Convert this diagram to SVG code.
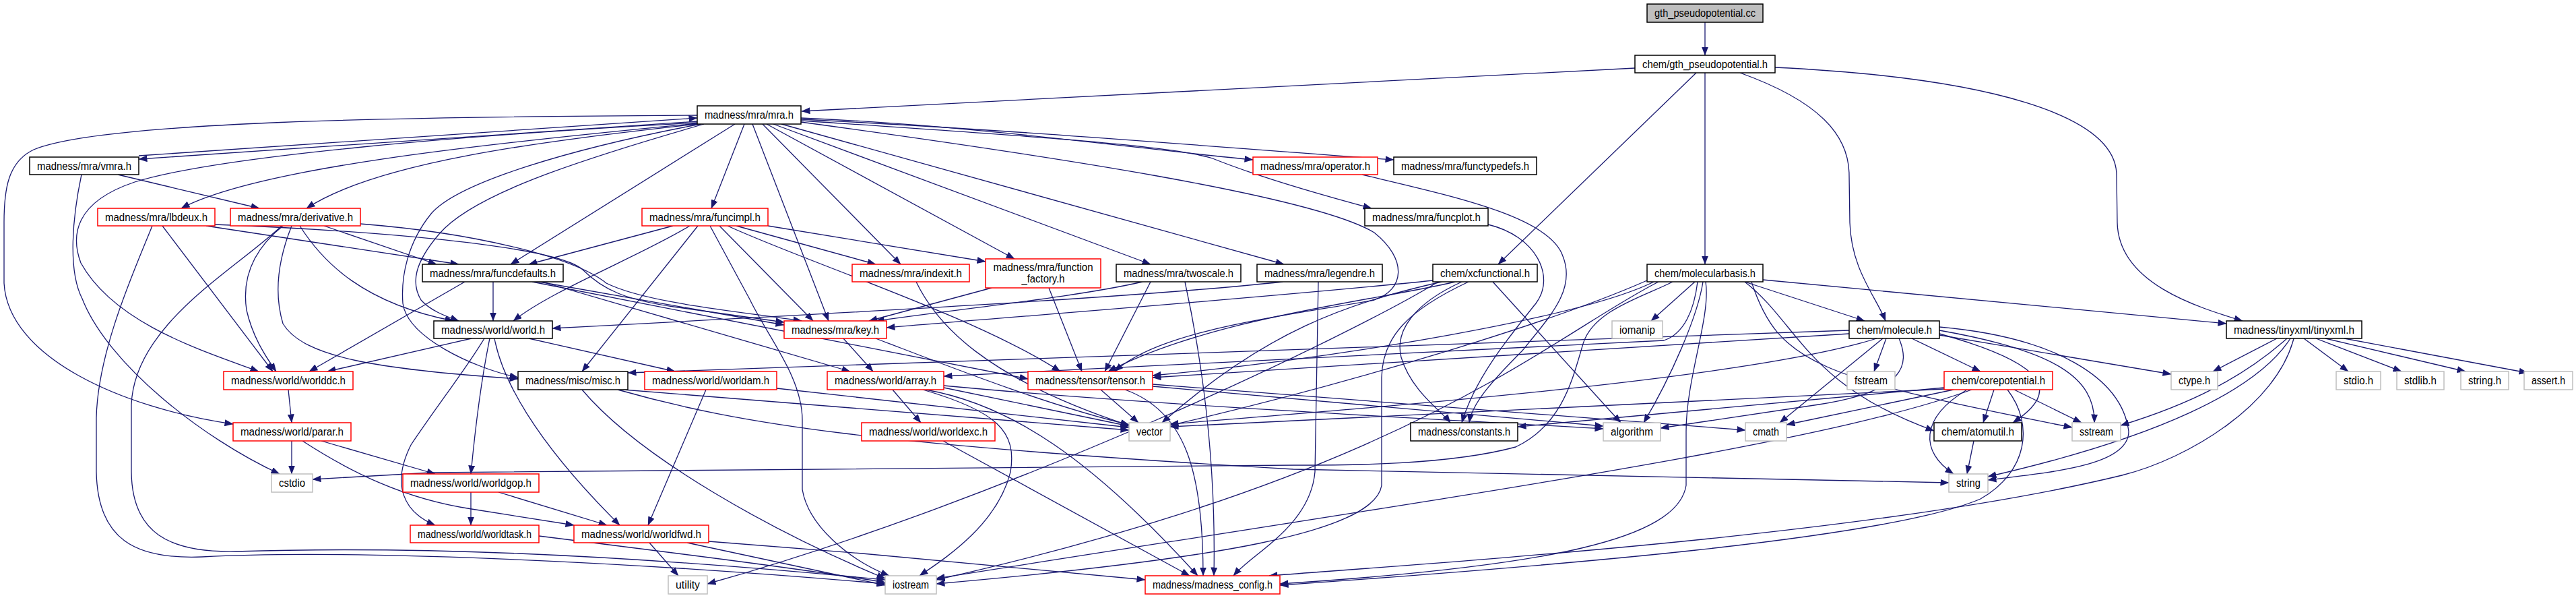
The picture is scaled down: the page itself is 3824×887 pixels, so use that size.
<svg xmlns="http://www.w3.org/2000/svg" width="3824" height="887" viewBox="0 0 3824 887">
<defs>
<marker id="ah" markerWidth="13" markerHeight="10" refX="12.5" refY="5" orient="auto" markerUnits="userSpaceOnUse"><path d="M0,0 L13,5 L0,10 z" fill="#191970"/></marker>
<style>
.n rect{fill:#fff;stroke:#000;stroke-width:1.5}
.n.r rect{stroke:#ff0000}
.n.g rect{stroke:#bfbfbf}
.n.root rect{fill:#bfbfbf}
.n text{font-family:"Liberation Sans",Arial,sans-serif;font-size:16px;fill:#000;text-anchor:middle}
#edges path{fill:none;stroke:#191970;stroke-width:1.3;marker-end:url(#ah)}
</style>
</defs>
<rect width="3824" height="887" fill="#fff"/>
<g id="edges">
<path d="M2531,33 L2531,82"/>
<path d="M2427,101 L1190,165"/>
<path d="M2518,108 L2224,392"/>
<path d="M2531,108 L2531,392"/>
<path d="M2583,108 C2700,150 2745,200 2745,260 L2746,330 C2748,400 2785,440 2799,476"/>
<path d="M2635,100 C2950,115 3142,170 3142,260 L3143,330 C3145,420 3260,455 3329,476"/>
<path d="M1035,171 C600,173 150,180 50,222 C12,240 6,280 6,330 L6,420 C12,530 180,605 346,629"/>
<path d="M1035,180 L206,236"/>
<path d="M206,231 L1035,175"/>
<path d="M1035,182 C700,200 330,230 200,270 C110,300 105,350 120,390 C170,480 300,520 384,551"/>
<path d="M1035,183 C700,215 380,250 269,309"/>
<path d="M1035,184 C800,210 560,240 455,309"/>
<path d="M1040,184 C850,220 680,270 640,317 C605,360 595,410 598,450 C605,500 700,545 769,560"/>
<path d="M1045,184 C850,240 700,290 652,347 C615,390 610,420 625,445 C640,462 665,470 681,476"/>
<path d="M1091,184 L758,392"/>
<path d="M1105,184 L1056,309"/>
<path d="M1117,184 L1230,476"/>
<path d="M1132,184 L1337,392"/>
<path d="M1138,184 L1506,384"/>
<path d="M1148,184 L1708,392"/>
<path d="M1160,184 L1906,392"/>
<path d="M1189,175 C1450,186 1700,222 1860,237"/>
<path d="M1189,177 C1550,195 1850,222 2069,237"/>
<path d="M1189,179 C1500,200 1740,215 1800,235 C1850,255 1920,278 2036,309"/>
<path d="M1189,181 C1550,230 1950,290 2040,345 C2090,385 2085,430 2040,445 C1900,470 1720,490 1655,551"/>
<path d="M175,259 L385,309"/>
<path d="M121,259 C108,320 100,400 122,443 C160,540 300,650 415,703"/>
<path d="M226,335 C200,400 145,520 143,620 L143,700 C145,800 200,830 300,826 C500,815 900,830 1314,866"/>
<path d="M241,335 L405,551"/>
<path d="M306,335 L681,392"/>
<path d="M319,333 C500,340 820,360 865,400 C895,430 930,445 1000,455 L1164,478"/>
<path d="M418,335 C350,400 200,480 195,600 L195,700 C196,790 250,820 350,818 C600,810 900,820 1314,860"/>
<path d="M420,335 C370,375 360,420 366,460 C375,500 395,530 410,551"/>
<path d="M433,335 C415,380 405,430 420,480 C450,530 560,548 769,562"/>
<path d="M445,335 C480,390 540,450 673,476"/>
<path d="M481,335 L648,392"/>
<path d="M535,332 C700,345 850,380 900,420 C960,450 1100,462 1190,476"/>
<path d="M999,335 L785,392"/>
<path d="M1024,335 C950,380 820,430 762,476"/>
<path d="M1036,335 L864,551"/>
<path d="M1068,335 L1207,476"/>
<path d="M1093,335 L1300,392"/>
<path d="M1140,335 L1463,388"/>
<path d="M1080,335 C1200,390 1450,470 1574,551"/>
<path d="M1054,335 L1113,444 C1140,500 1191,560 1191,623 L1191,726 C1200,780 1260,830 1320,854"/>
<path d="M732,418 L732,476"/>
<path d="M690,418 L459,551"/>
<path d="M800,418 L1164,482"/>
<path d="M790,418 L1526,562"/>
<path d="M805,418 L1262,551"/>
<path d="M700,502 L486,551"/>
<path d="M727,502 C715,560 705,640 699,703"/>
<path d="M734,502 C745,560 790,650 920,779"/>
<path d="M719,502 C690,550 650,600 610,660 C580,720 600,760 646,779"/>
<path d="M785,502 L1002,551"/>
<path d="M428,578 L433,627"/>
<path d="M433,654 L433,703"/>
<path d="M449,654 C520,700 600,740 700,755 L852,779"/>
<path d="M477,654 L646,703"/>
<path d="M699,730 L699,779"/>
<path d="M740,730 L901,779"/>
<path d="M800,795 C1000,820 1200,845 1314,864"/>
<path d="M964,805 L1007,854"/>
<path d="M1052,803 L1280,821 L1700,860"/>
<path d="M1020,805 L1314,868"/>
<path d="M864,578 C950,680 1150,790 1314,858"/>
<path d="M917,578 C1100,630 1300,660 1920,696 L2893,716"/>
<path d="M925,578 L1676,638"/>
<path d="M1048,578 L962,779"/>
<path d="M1153,576 L1676,634"/>
<path d="M1252,502 L1296,551"/>
<path d="M1300,502 C1400,540 1550,600 1676,630"/>
<path d="M1325,578 L1367,627"/>
<path d="M1401,575 L1676,632"/>
<path d="M1370,578 C1480,610 1510,640 1500,700 C1480,780 1400,830 1365,854"/>
<path d="M1374,578 C1500,600 1620,680 1778,854"/>
<path d="M1401,572 C1700,600 2100,620 2380,636"/>
<path d="M1634,578 L1690,627"/>
<path d="M1670,578 C1760,610 1786,700 1786,854"/>
<path d="M1711,573 L2380,632"/>
<path d="M1711,570 L2591,638"/>
<path d="M1400,654 L1766,854"/>
<path d="M1360,418 C1390,480 1460,560 1676,631"/>
<path d="M1472,427 L1290,476"/>
<path d="M1557,427 L1606,551"/>
<path d="M1708,418 L1640,551"/>
<path d="M1759,418 C1790,560 1805,700 1802,854"/>
<path d="M1696,418 C1600,440 1450,455 1300,476"/>
<path d="M1904,418 C1700,440 1300,462 820,487"/>
<path d="M1957,418 L1952,700 C1945,780 1860,820 1831,854"/>
<path d="M2127,416 C1900,440 1500,470 1316,486"/>
<path d="M2160,418 C2050,445 1800,470 1645,551"/>
<path d="M2170,418 C2100,450 2070,490 2080,530 C2095,580 2140,610 2153,627"/>
<path d="M2216,418 L2406,627"/>
<path d="M2140,418 C2000,450 1880,490 1725,627"/>
<path d="M2180,418 C2090,460 2052,500 2051,560 L2051,720 C2040,790 1800,830 1390,866"/>
<path d="M2135,418 C2000,500 1500,740 1050,866"/>
<path d="M2022,259 C2150,290 2300,320 2320,380 C2340,430 2300,470 2260,520 C2210,570 2185,600 2181,627"/>
<path d="M2209,333 C2280,350 2310,410 2280,450 C2240,500 2190,560 2170,627"/>
<path d="M2590,418 L2768,476"/>
<path d="M2617,415 L3305,480"/>
<path d="M2516,418 L2451,476"/>
<path d="M2528,418 C2520,470 2480,560 2440,627"/>
<path d="M2455,418 C2350,470 2000,530 1711,557"/>
<path d="M2445,416 C2300,480 2000,570 1737,631"/>
<path d="M2483,418 C2440,440 2365,460 2350,510 C2335,560 2320,630 2250,663 C2150,690 2000,690 1920,690 L640,701 L464,711"/>
<path d="M2532,418 C2540,470 2503,560 2503,640 L2503,720 C2490,800 2300,840 1900,866"/>
<path d="M2600,418 C2640,540 2700,560 3076,634"/>
<path d="M2590,418 C2670,480 2680,570 2871,639"/>
<path d="M2520,418 C2515,460 2500,495 2470,505 L1401,558"/>
<path d="M2462,418 C2300,500 2100,700 1390,860"/>
<path d="M2800,502 L2782,551"/>
<path d="M2838,502 L2940,551"/>
<path d="M2795,502 L2642,627"/>
<path d="M2786,502 C2600,560 2100,600 1737,629"/>
<path d="M2819,502 C2835,540 2830,580 2700,600 L2465,635"/>
<path d="M2745,495 L1711,560"/>
<path d="M2745,490 L932,553"/>
<path d="M2879,490 C3050,520 3110,560 3109,627"/>
<path d="M2879,485 C3050,500 3150,560 3160,640 C3160,690 3050,700 2951,712"/>
<path d="M2879,495 C3040,540 3060,580 2988,627"/>
<path d="M2879,497 L3223,555"/>
<path d="M2886,575 L2253,633"/>
<path d="M2886,577 L1737,633"/>
<path d="M2900,578 L2652,630"/>
<path d="M2920,578 C2850,620 2850,670 2900,703"/>
<path d="M2960,578 L2944,627"/>
<path d="M2990,578 L3090,627"/>
<path d="M2980,578 C3020,630 3010,700 2940,740 C2800,800 2300,840 1900,868"/>
<path d="M2927,578 C2700,660 2200,730 1390,858"/>
<path d="M2930,654 L2920,703"/>
<path d="M3380,502 L3285,551"/>
<path d="M3420,502 L3486,551"/>
<path d="M3438,502 L3565,551"/>
<path d="M3452,502 L3660,551"/>
<path d="M3480,502 L3752,553"/>
<path d="M3395,502 C3330,560 3250,600 3148,631"/>
<path d="M3400,502 C3350,580 3200,650 2951,707"/>
<path d="M3405,502 C3380,600 3250,680 3150,705 C2800,790 2200,830 1884,854"/>
</g>
<g id="n-cc" class="n root"><rect x="2445" y="6" width="172" height="27"/><text x="2531" y="24.5" textLength="150" lengthAdjust="spacingAndGlyphs">gth_pseudopotential.cc</text></g>
<g id="n-gthh" class="n"><rect x="2427" y="82" width="208" height="26"/><text x="2531" y="100.5" textLength="186" lengthAdjust="spacingAndGlyphs">chem/gth_pseudopotential.h</text></g>
<g id="n-mra" class="n"><rect x="1035" y="157" width="154" height="27"/><text x="1112" y="176" textLength="132" lengthAdjust="spacingAndGlyphs">madness/mra/mra.h</text></g>
<g id="n-vmra" class="n"><rect x="44" y="233" width="162" height="26"/><text x="125" y="251.5" textLength="140" lengthAdjust="spacingAndGlyphs">madness/mra/vmra.h</text></g>
<g id="n-operator" class="n r"><rect x="1860" y="233" width="185" height="26"/><text x="1952.5" y="251.5" textLength="163" lengthAdjust="spacingAndGlyphs">madness/mra/operator.h</text></g>
<g id="n-functypedefs" class="n"><rect x="2069" y="233" width="212" height="26"/><text x="2175" y="251.5" textLength="190" lengthAdjust="spacingAndGlyphs">madness/mra/functypedefs.h</text></g>
<g id="n-lbdeux" class="n r"><rect x="145" y="309" width="174" height="26"/><text x="232" y="327.5" textLength="152" lengthAdjust="spacingAndGlyphs">madness/mra/lbdeux.h</text></g>
<g id="n-derivative" class="n r"><rect x="342" y="309" width="193" height="26"/><text x="438.5" y="327.5" textLength="171" lengthAdjust="spacingAndGlyphs">madness/mra/derivative.h</text></g>
<g id="n-funcimpl" class="n r"><rect x="953" y="309" width="187" height="26"/><text x="1046.5" y="327.5" textLength="165" lengthAdjust="spacingAndGlyphs">madness/mra/funcimpl.h</text></g>
<g id="n-funcplot" class="n"><rect x="2026" y="309" width="183" height="26"/><text x="2117.5" y="327.5" textLength="161" lengthAdjust="spacingAndGlyphs">madness/mra/funcplot.h</text></g>
<g id="n-funcdefaults" class="n"><rect x="627" y="392" width="209" height="26"/><text x="731.5" y="410.5" textLength="187" lengthAdjust="spacingAndGlyphs">madness/mra/funcdefaults.h</text></g>
<g id="n-indexit" class="n r"><rect x="1265" y="392" width="174" height="26"/><text x="1352" y="410.5" textLength="152" lengthAdjust="spacingAndGlyphs">madness/mra/indexit.h</text></g>
<g id="n-function_factory" class="n r"><rect x="1463" y="384" width="171" height="43"/><text x="1548.5" y="401.5" textLength="148" lengthAdjust="spacingAndGlyphs">madness/mra/function</text><text x="1548.5" y="418.5" textLength="64" lengthAdjust="spacingAndGlyphs">_factory.h</text></g>
<g id="n-twoscale" class="n"><rect x="1657" y="392" width="185" height="26"/><text x="1749.5" y="410.5" textLength="163" lengthAdjust="spacingAndGlyphs">madness/mra/twoscale.h</text></g>
<g id="n-legendre" class="n"><rect x="1866" y="392" width="186" height="26"/><text x="1959" y="410.5" textLength="164" lengthAdjust="spacingAndGlyphs">madness/mra/legendre.h</text></g>
<g id="n-xcfunctional" class="n"><rect x="2127" y="392" width="155" height="26"/><text x="2204.5" y="410.5" textLength="133" lengthAdjust="spacingAndGlyphs">chem/xcfunctional.h</text></g>
<g id="n-molecularbasis" class="n"><rect x="2445" y="392" width="172" height="26"/><text x="2531" y="410.5" textLength="150" lengthAdjust="spacingAndGlyphs">chem/molecularbasis.h</text></g>
<g id="n-world" class="n"><rect x="644" y="476" width="176" height="26"/><text x="732" y="494.5" textLength="154" lengthAdjust="spacingAndGlyphs">madness/world/world.h</text></g>
<g id="n-key" class="n r"><rect x="1164" y="476" width="152" height="26"/><text x="1240" y="494.5" textLength="130" lengthAdjust="spacingAndGlyphs">madness/mra/key.h</text></g>
<g id="n-molecule" class="n"><rect x="2745" y="476" width="134" height="26"/><text x="2812" y="494.5" textLength="112" lengthAdjust="spacingAndGlyphs">chem/molecule.h</text></g>
<g id="n-iomanip" class="n g"><rect x="2393" y="476" width="75" height="26"/><text x="2430.5" y="494.5" textLength="53" lengthAdjust="spacingAndGlyphs">iomanip</text></g>
<g id="n-tinyxml" class="n"><rect x="3305" y="476" width="201" height="26"/><text x="3405.5" y="494.5" textLength="179" lengthAdjust="spacingAndGlyphs">madness/tinyxml/tinyxml.h</text></g>
<g id="n-worlddc" class="n r"><rect x="332" y="551" width="192" height="27"/><text x="428" y="570" textLength="170" lengthAdjust="spacingAndGlyphs">madness/world/worlddc.h</text></g>
<g id="n-misc" class="n"><rect x="769" y="551" width="163" height="27"/><text x="850.5" y="570" textLength="141" lengthAdjust="spacingAndGlyphs">madness/misc/misc.h</text></g>
<g id="n-worldam" class="n r"><rect x="957" y="551" width="196" height="27"/><text x="1055" y="570" textLength="174" lengthAdjust="spacingAndGlyphs">madness/world/worldam.h</text></g>
<g id="n-array" class="n r"><rect x="1228" y="551" width="173" height="27"/><text x="1314.5" y="570" textLength="151" lengthAdjust="spacingAndGlyphs">madness/world/array.h</text></g>
<g id="n-tensor" class="n r"><rect x="1526" y="551" width="185" height="27"/><text x="1618.5" y="570" textLength="163" lengthAdjust="spacingAndGlyphs">madness/tensor/tensor.h</text></g>
<g id="n-fstream" class="n g"><rect x="2742" y="551" width="71" height="27"/><text x="2777.5" y="570" textLength="49" lengthAdjust="spacingAndGlyphs">fstream</text></g>
<g id="n-corepotential" class="n r"><rect x="2886" y="551" width="161" height="27"/><text x="2966.5" y="570" textLength="139" lengthAdjust="spacingAndGlyphs">chem/corepotential.h</text></g>
<g id="n-ctype" class="n g"><rect x="3223" y="551" width="69" height="27"/><text x="3257.5" y="570" textLength="47" lengthAdjust="spacingAndGlyphs">ctype.h</text></g>
<g id="n-stdio" class="n g"><rect x="3468" y="551" width="66" height="27"/><text x="3501" y="570" textLength="44" lengthAdjust="spacingAndGlyphs">stdio.h</text></g>
<g id="n-stdlib" class="n g"><rect x="3558" y="551" width="70" height="27"/><text x="3593" y="570" textLength="48" lengthAdjust="spacingAndGlyphs">stdlib.h</text></g>
<g id="n-stringh" class="n g"><rect x="3653" y="551" width="71" height="27"/><text x="3688.5" y="570" textLength="49" lengthAdjust="spacingAndGlyphs">string.h</text></g>
<g id="n-assert" class="n g"><rect x="3747" y="551" width="72" height="27"/><text x="3783" y="570" textLength="50" lengthAdjust="spacingAndGlyphs">assert.h</text></g>
<g id="n-parar" class="n r"><rect x="346" y="627" width="175" height="27"/><text x="433.5" y="646" textLength="153" lengthAdjust="spacingAndGlyphs">madness/world/parar.h</text></g>
<g id="n-worldexc" class="n r"><rect x="1279" y="627" width="198" height="27"/><text x="1378" y="646" textLength="176" lengthAdjust="spacingAndGlyphs">madness/world/worldexc.h</text></g>
<g id="n-vector" class="n g"><rect x="1676" y="627" width="61" height="27"/><text x="1706.5" y="646" textLength="39" lengthAdjust="spacingAndGlyphs">vector</text></g>
<g id="n-constants" class="n"><rect x="2094" y="627" width="159" height="27"/><text x="2173.5" y="646" textLength="137" lengthAdjust="spacingAndGlyphs">madness/constants.h</text></g>
<g id="n-algorithm" class="n g"><rect x="2380" y="627" width="85" height="27"/><text x="2422.5" y="646" textLength="63" lengthAdjust="spacingAndGlyphs">algorithm</text></g>
<g id="n-cmath" class="n g"><rect x="2591" y="627" width="61" height="27"/><text x="2621.5" y="646" textLength="39" lengthAdjust="spacingAndGlyphs">cmath</text></g>
<g id="n-atomutil" class="n"><rect x="2871" y="627" width="130" height="27"/><text x="2936" y="646" textLength="108" lengthAdjust="spacingAndGlyphs">chem/atomutil.h</text></g>
<g id="n-sstream" class="n g"><rect x="3076" y="627" width="72" height="27"/><text x="3112" y="646" textLength="50" lengthAdjust="spacingAndGlyphs">sstream</text></g>
<g id="n-cstdio" class="n g"><rect x="403" y="703" width="61" height="27"/><text x="433.5" y="722" textLength="39" lengthAdjust="spacingAndGlyphs">cstdio</text></g>
<g id="n-worldgop" class="n r"><rect x="598" y="703" width="202" height="27"/><text x="699" y="722" textLength="180" lengthAdjust="spacingAndGlyphs">madness/world/worldgop.h</text></g>
<g id="n-string" class="n g"><rect x="2893" y="703" width="58" height="27"/><text x="2922" y="722" textLength="36" lengthAdjust="spacingAndGlyphs">string</text></g>
<g id="n-worldtask" class="n r"><rect x="609" y="779" width="191" height="26"/><text x="704.5" y="797.5" textLength="169" lengthAdjust="spacingAndGlyphs">madness/world/worldtask.h</text></g>
<g id="n-worldfwd" class="n r"><rect x="852" y="779" width="200" height="26"/><text x="952" y="797.5" textLength="178" lengthAdjust="spacingAndGlyphs">madness/world/worldfwd.h</text></g>
<g id="n-utility" class="n g"><rect x="992" y="854" width="58" height="27"/><text x="1021" y="873" textLength="36" lengthAdjust="spacingAndGlyphs">utility</text></g>
<g id="n-iostream" class="n g"><rect x="1314" y="854" width="76" height="27"/><text x="1352" y="873" textLength="54" lengthAdjust="spacingAndGlyphs">iostream</text></g>
<g id="n-madness_config" class="n r"><rect x="1700" y="854" width="200" height="27"/><text x="1800" y="873" textLength="178" lengthAdjust="spacingAndGlyphs">madness/madness_config.h</text></g>
</svg>
